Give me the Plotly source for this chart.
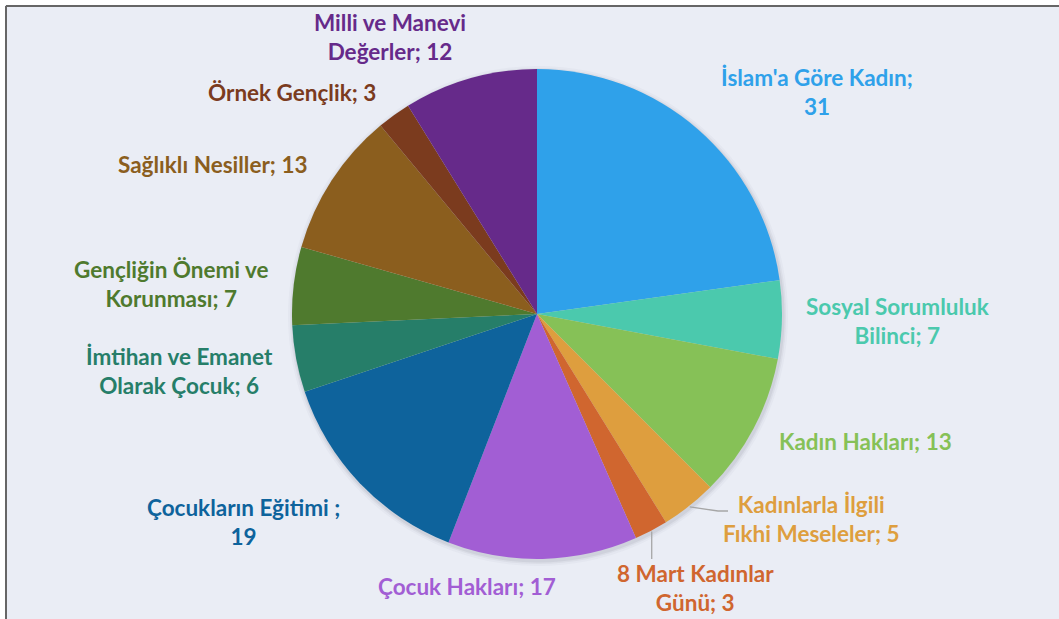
import math
import plotly.graph_objects as go

# ---- data ----
labels = [
    "İslam'a Göre Kadın", "Sosyal Sorumluluk Bilinci", "Kadın Hakları",
    "Kadınlarla İlgili Fıkhi Meseleler", "8 Mart Kadınlar Günü", "Çocuk Hakları",
    "Çocukların Eğitimi", "İmtihan ve Emanet Olarak Çocuk", "Gençliğin Önemi ve Korunması",
    "Sağlıklı Nesiller", "Örnek Gençlik", "Milli ve Manevi Değerler",
]
values = [31, 7, 13, 5, 3, 17, 19, 6, 7, 13, 3, 12]
label_texts = [
    "İslam'a Göre Kadın;<br>31", "Sosyal Sorumluluk<br>Bilinci; 7", "Kadın Hakları; 13",
    "Kadınlarla İlgili<br>Fıkhi Meseleler; 5", "8 Mart Kadınlar<br>Günü; 3", "Çocuk Hakları; 17",
    "Çocukların Eğitimi ;<br>19", "İmtihan ve Emanet<br>Olarak Çocuk; 6", "Gençliğin Önemi ve<br>Korunması; 7",
    "Sağlıklı Nesiller; 13", "Örnek Gençlik; 3", "Milli ve Manevi<br>Değerler; 12",
]

# ---- styles ----
colors = [
    "#2FA1EA", "#4BC9AD", "#86C157", "#DE9E3E", "#D0662F", "#A25ED4",
    "#0E639C", "#267E69", "#4F7A2E", "#8B5E1E", "#7B3B1E", "#662A8A",
]
# label centres in pixels (x, y from top)
label_pos = [
    (817, 92), (898, 321), (865, 441), (811, 519), (695, 588), (467, 586),
    (243, 522), (179, 371), (171, 284), (213, 164), (292, 92), (390, 37),
]
W, H = 1059, 619
CX, CY, R = 537, 314, 245


def px(x):
    return x / W


def py(y):
    return 1 - y / H


fig = go.Figure()
fig.add_trace(go.Pie(
    labels=labels, values=values, sort=False, direction="clockwise", rotation=0,
    marker=dict(colors=colors, line=dict(width=0)),
    textinfo="none", hoverinfo="label+value", showlegend=False,
    domain=dict(x=[px(CX - R), px(CX + R)], y=[py(CY + R), py(CY - R)]),
))

shapes = [
    # white strips outside the chart frame
    dict(type="rect", xref="paper", yref="paper", x0=0, x1=px(5), y0=0, y1=1,
         fillcolor="white", line=dict(width=0), layer="below"),
    dict(type="rect", xref="paper", yref="paper", x0=0, x1=1, y0=py(5), y1=1,
         fillcolor="white", line=dict(width=0), layer="below"),
    # frame lines
    dict(type="line", xref="paper", yref="paper", x0=px(6), x1=1, y0=py(6), y1=py(6),
         line=dict(color="#666666", width=2), layer="below"),
    dict(type="line", xref="paper", yref="paper", x0=px(6), x1=px(6), y0=0, y1=py(6),
         line=dict(color="#666666", width=2), layer="below"),
]
# soft shadow behind the pie
for dr, op in [(5, 0.03), (3, 0.05), (1.5, 0.07)]:
    shapes.append(dict(type="circle", xref="paper", yref="paper",
                       x0=px(CX - R - dr + 1), x1=px(CX + R + dr + 1),
                       y0=py(CY + R + dr + 2), y1=py(CY - R - dr + 2),
                       fillcolor="rgba(60,60,80,%.2f)" % op, line=dict(width=0), layer="below"))

# leader lines for the two small slices, starting at slice mid-angle
total = sum(values)
cum = 0
mids = []
for v in values:
    mids.append((cum + v / 2) / total * 2 * math.pi)
    cum += v


def edge(i, r=R + 1):
    a = mids[i]
    return CX + r * math.sin(a), CY - r * math.cos(a)


sx, sy = edge(3)
shapes.append(dict(type="path", xref="paper", yref="paper",
                   path="M %f,%f L %f,%f L %f,%f" % (px(sx), py(sy), px(718), py(511), px(728), py(511)),
                   line=dict(color="#A6A6A6", width=1.3)))
sx, sy = edge(4)
shapes.append(dict(type="path", xref="paper", yref="paper",
                   path="M %f,%f L %f,%f" % (px(sx), py(sy), px(sx), py(559)),
                   line=dict(color="#A6A6A6", width=1.3)))

annotations = []
for t, c, (x, y) in zip(label_texts, colors, label_pos):
    annotations.append(dict(text="<b>%s</b>" % t, x=px(x), y=py(y), xref="paper", yref="paper",
                            xanchor="center", yanchor="middle", align="center", showarrow=False,
                            font=dict(family="Lato", size=22.5, color=c)))

fig.update_layout(
    width=W, height=H, margin=dict(l=0, r=0, t=0, b=0),
    paper_bgcolor="#EAEDF5", plot_bgcolor="#EAEDF5",
    shapes=shapes, annotations=annotations,
)
fig.write_html("out.html", config={"displayModeBar": False},
               post_script="document.body.style.margin='0';")
